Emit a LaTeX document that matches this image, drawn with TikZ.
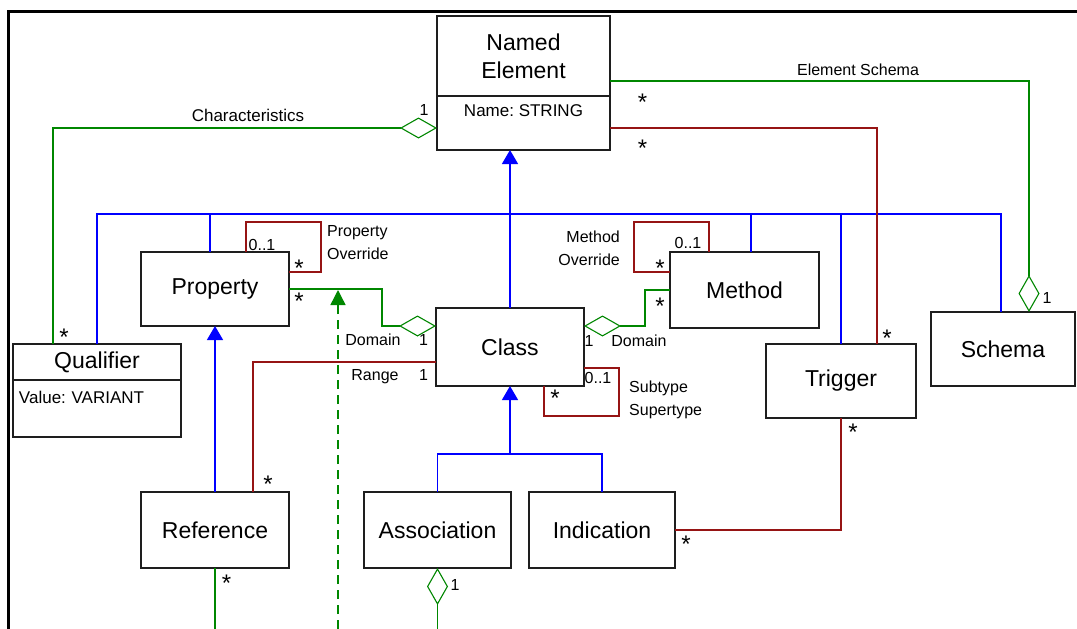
\documentclass[tikz,border=0pt]{standalone}
\usepackage{fontspec}
\setmainfont{Liberation Sans}
\frenchspacing
\usetikzlibrary{arrows.meta,positioning}
\definecolor{umedge}{RGB}{30,30,30}
\definecolor{umgen}{RGB}{0,0,255}
\definecolor{umagg}{RGB}{0,135,0}
\definecolor{umasc}{RGB}{150,20,20}
\tikzset{
  umbox/.style={
    draw=umedge, line width=1.8pt, fill=white, outer sep=0pt,
    align=center, inner sep=2pt, font=\fontsize{23}{28}\selectfont
  },
  attrbox/.style={
    draw=umedge, line width=1.8pt, fill=white, outer sep=0pt,
    inner ysep=4pt, font=\fontsize{17}{20}\selectfont
  },
  gen/.style={draw=umgen, line width=1.4pt, -{Triangle[length=14pt,width=16pt]}},
  genline/.style={draw=umgen, line width=1.4pt},
  agg/.style={draw=umagg, line width=1.4pt,
    {Diamond[open,length=37pt,width=21pt,line width=1.1pt]}-},
  aggline/.style={draw=umagg, line width=1.4pt},
  aggdash/.style={draw=umagg, line width=1.4pt, dash pattern=on 9pt off 6pt,
    -{Triangle[length=15pt,width=15pt]}},
  asc/.style={draw=umasc, line width=1.4pt},
  mult/.style={font=\fontsize{16}{23}\selectfont, inner sep=0pt, anchor=base},
  star/.style={mult, font=\fontsize{24}{24}\selectfont},
  lbl/.style={mult},
  every picture/.append style={line join=miter}
}
\begin{document}
\begin{tikzpicture}[x=1pt, y=-1pt]
  \fill[white] (0,0) rectangle (1077,629);
  \useasboundingbox (0,0) rectangle (1077,629);
  \draw[line width=3pt] (8.5,629) -- (8.5,11) -- (1077,11);

  % classes
  \node[umbox, minimum width=173pt, minimum height=80pt] (named) at (523.5,56) {Named\\Element};
  \node[attrbox, minimum width=173pt, text height=16pt, text depth=30pt,
    below=0pt of named] (namedattr) {Name: STRING};
  \node[umbox, minimum width=168pt, minimum height=36pt] (qual) at (97,362) {Qualifier};
  \node[attrbox, inner xsep=6pt, text width=156pt, align=left, text height=19pt,
    text depth=30pt, below=0pt of qual] (qualattr) {Value: VARIANT};
  \node[umbox, minimum width=148pt, minimum height=74pt] (prop) at (215,289) {Property};
  \node[umbox, minimum width=149pt, minimum height=76pt] (meth) at (744.5,290) {Method};
  \node[umbox, minimum width=148pt, minimum height=78pt] (cls) at (510,347) {Class};
  \node[umbox, minimum width=150pt, minimum height=74pt] (trig) at (841,381) {Trigger};
  \node[umbox, minimum width=144pt, minimum height=74pt] (schema) at (1003,349) {Schema};
  \node[umbox, minimum width=148pt, minimum height=76pt, below=166pt of prop] (ref) {Reference};
  \node[umbox, minimum width=147pt, minimum height=76pt] (assoc) at (437.5,530) {Association};
  \node[umbox, minimum width=146pt, minimum height=76pt, right=18pt of assoc] (ind) {Indication};

  % generalization
  \coordinate (genbus) at (510,214);
  \coordinate (clsbus) at (510,454);
  \draw[gen] (cls.north) -- (cls.north |- namedattr.south);
  \draw[genline] (qual.north) |- (genbus);
  \draw[genline] ([xshift=-5pt]prop.north) |- (genbus);
  \draw[genline] ([xshift=6.5pt]meth.north) |- (genbus);
  \draw[genline] (trig.north) |- (genbus);
  \draw[genline] ([xshift=-2pt]schema.north) |- (genbus);
  \draw[gen] (clsbus) -- (cls.south);
  \draw[genline] (assoc.north) |- (clsbus);
  \draw[genline] (ind.north) |- (clsbus);
  \draw[gen] (ref.north) -- (prop.south);

  % aggregation
  \coordinate (refend) at (ref.south |- 0,629);
  \coordinate (assocend) at (assoc.south |- 0,629);
  \coordinate (propdom) at (338,290);
  \coordinate (propdomend) at (338,629);
  \draw[agg] ([yshift=-5pt]namedattr.west) -| ([xshift=-44pt]qual.north);
  \draw[agg] ([xshift=26pt]schema.north) |- ([yshift=-25pt]named.east);
  \draw[agg] ([yshift=21pt]cls.west) -- ++(-54,0) |- (prop.east);
  \draw[agg] ([yshift=21pt]cls.east) -- ++(61,0) |- (meth.west);
  \draw[agg] (assoc.south) -- (assocend);
  \draw[aggline] (ref.south) -- (refend);
  \draw[aggdash] (propdomend) -- (propdom);

  % associations
  \draw[asc] ([yshift=-5pt]namedattr.east) -| ([xshift=36pt]trig.north);
  \draw[asc] ([yshift=-15pt]cls.west) -| ([xshift=38pt]ref.north);
  \draw[asc] (trig.south) |- (ind.east);
  \draw[asc] ([xshift=31pt]prop.north) -- ++(0,-30) -- ++(75,0) |- ([yshift=17pt]prop.east);
  \draw[asc] ([xshift=-35.5pt]meth.north) -- ++(0,-30) -- ++(-75,0) |- ([yshift=18pt]meth.west);
  \draw[asc] ([xshift=34pt]cls.south) -- ++(0,30) -- ++(75,0) |- ([yshift=-21pt]cls.east);

  % labels
  \node[lbl, font=\fontsize{17}{20}\selectfont] (tchar) at (248,121) {Characteristics};
  \node[mult] (mchar1) at (424,115) {1};
  \node[star] (mchar2) at (64,345) {*};
  \node[lbl] (tschema) at (858,75) {Element Schema};
  \node[star] (mschema1) at (642.5,110) {*};
  \node[mult] (mschema2) at (1047,303) {1};
  \node[star] (mtrig1) at (642.5,156) {*};
  \node[star] (mtrig2) at (887,346) {*};
  \node[mult] (mpover1) at (262,250) {0..1};
  \node[star] (mpover2) at (299,276) {*};
  \node[lbl, anchor=west, align=left] (tpover) at (327,243) {Property\\Override};
  \node[star] (mpdom1) at (299,309) {*};
  \node[lbl] (tpdom) at (373,345) {Domain};
  \node[mult] (mpdom2) at (423.5,345) {1};
  \node[lbl] (trange) at (375,380) {Range};
  \node[mult] (mrange1) at (423.5,380) {1};
  \node[star] (mrange2) at (268,492) {*};
  \node[mult] (mmover1) at (688,248) {0..1};
  \node[star] (mmover2) at (660,276) {*};
  \node[lbl, anchor=east, align=right] (tmover) at (620,248) {Method\\Override};
  \node[star] (mmdom1) at (660,314) {*};
  \node[mult] (mmdom2) at (589,346) {1};
  \node[lbl] (tmdom) at (639,346) {Domain};
  \node[mult] (msub1) at (598,383) {0..1};
  \node[star] (msub2) at (555,406) {*};
  \node[lbl, anchor=west, align=left] (tsub) at (629,400) {Subtype\\Supertype};
  \node[star] (mind1) at (853,440) {*};
  \node[star] (mind2) at (686,552) {*};
  \node[star] (mref) at (226.5,591) {*};
  \node[mult] (massoc) at (455,590) {1};
\end{tikzpicture}
\end{document}
